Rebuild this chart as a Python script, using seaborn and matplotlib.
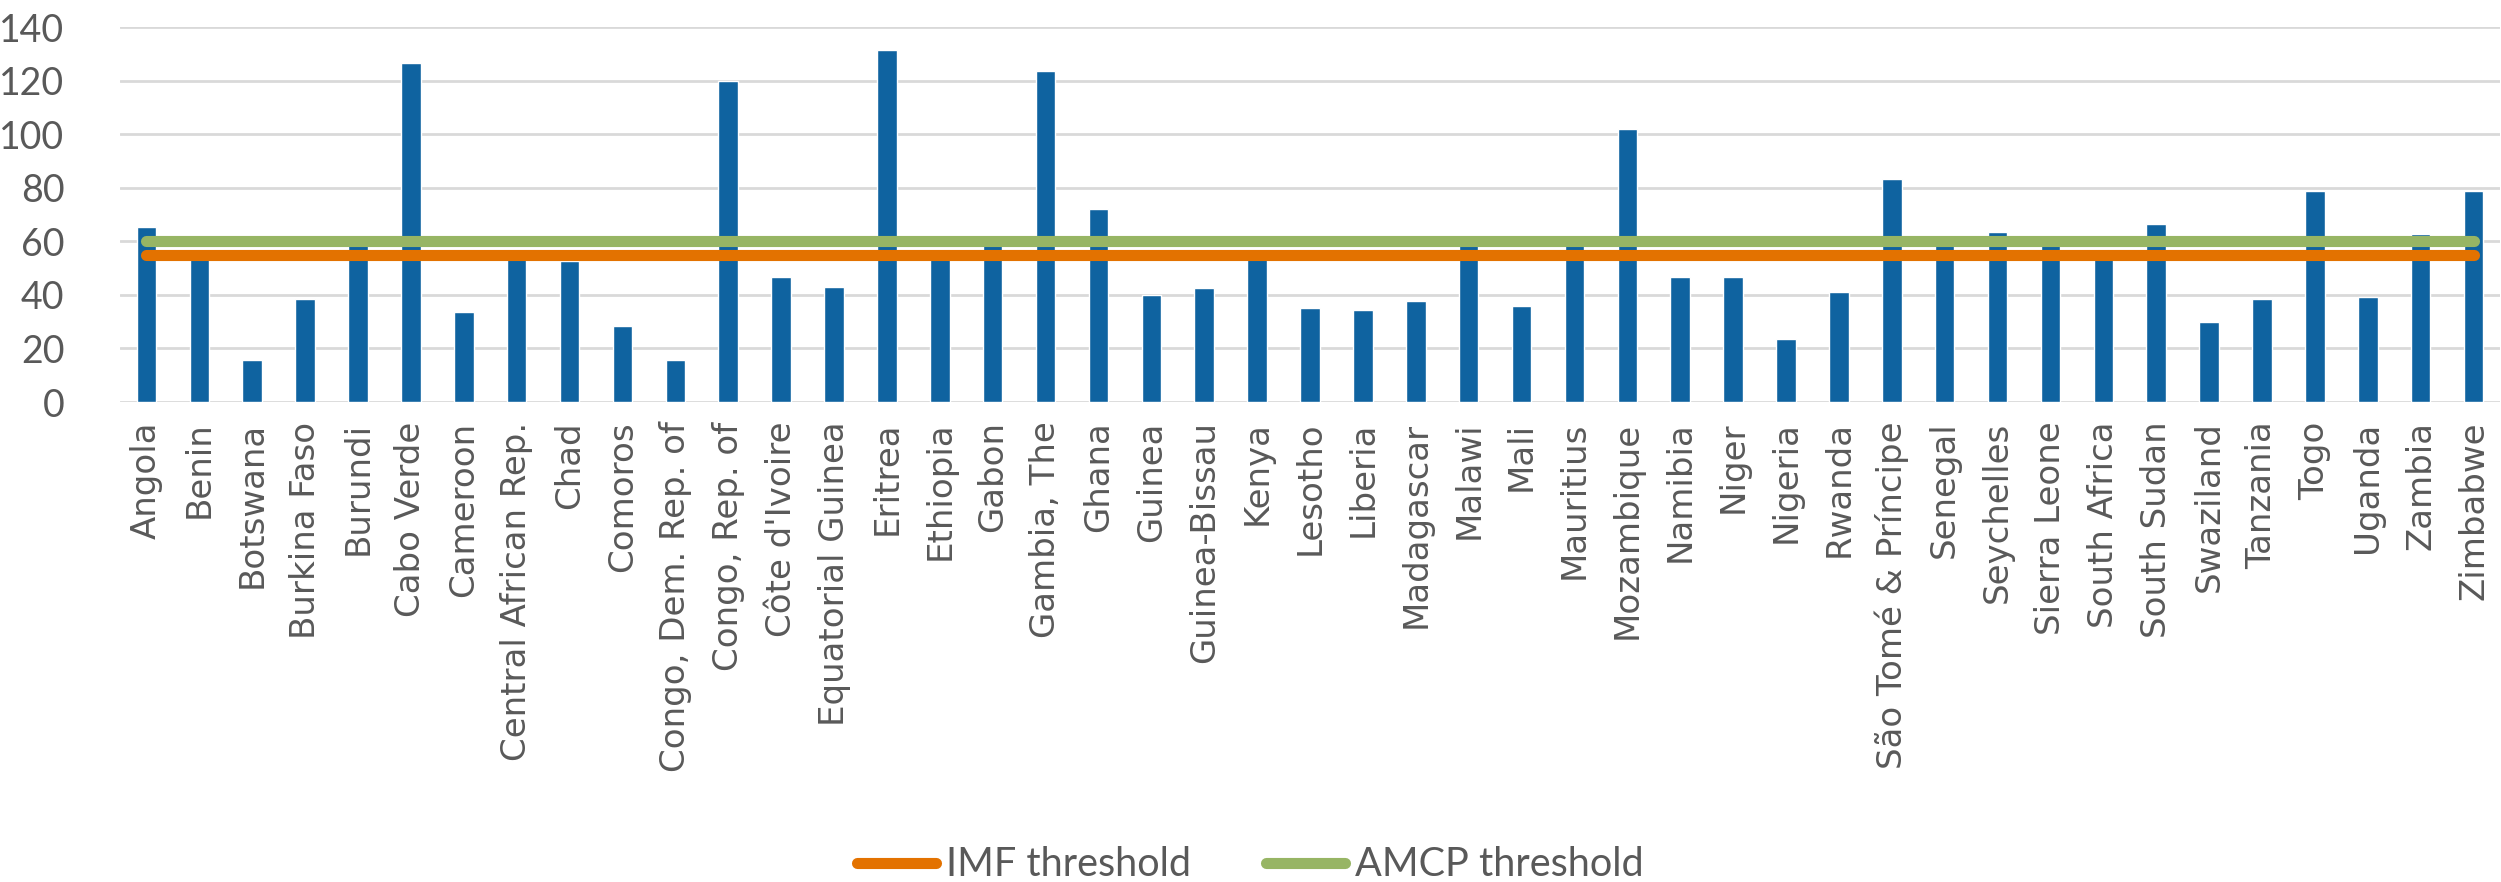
import matplotlib
matplotlib.use("Agg")
import matplotlib.pyplot as plt
import seaborn as sns
import pandas as pd

countries = [
    "Angola", "Benin", "Botswana", "Burkina Faso", "Burundi", "Cabo Verde",
    "Cameroon", "Central African Rep.", "Chad", "Comoros", "Congo, Dem. Rep. of",
    "Congo, Rep. of", "Côte d'Ivoire", "Equatorial Guinea", "Eritrea", "Ethiopia",
    "Gabon", "Gambia, The", "Ghana", "Guinea", "Guinea-Bissau", "Kenya",
    "Lesotho", "Liberia", "Madagascar", "Malawi", "Mali", "Mauritius",
    "Mozambique", "Namibia", "Niger", "Nigeria", "Rwanda", "São Tomé & Príncipe",
    "Senegal", "Seychelles", "Sierra Leone", "South Africa", "South Sudan",
    "Swaziland", "Tanzania", "Togo", "Uganda", "Zambia", "Zimbabwe",
]
debt_ratio = [
    65.3, 55.0, 15.7, 38.6, 58.5, 126.4,
    33.7, 55.0, 52.8, 28.4, 15.7,
    119.7, 46.5, 43.1, 131.6, 55.0,
    58.5, 123.7, 72.0, 39.9, 42.5, 54.0,
    35.2, 34.4, 37.7, 58.5, 35.9, 58.5,
    102.1, 46.5, 46.5, 23.7, 41.1, 83.3,
    58.5, 63.3, 58.5, 55.0, 66.6,
    29.8, 38.5, 78.7, 39.2, 62.6, 78.7,
]
imf_threshold = 55
amcp_threshold = 60
y_ticks = [0, 20, 40, 60, 80, 100, 120, 140]

BAR_BLUE = "#0F63A0"
IMF_ORANGE = "#E37200"
AMCP_GREEN = "#97B564"
TEXT_GREY = "#595959"
GRID_GREY = "#D9D9D9"

df = pd.DataFrame({"country": countries, "ratio": debt_ratio})

sns.set_theme(style="white")
plt.rcParams["font.family"] = ["DejaVu Sans"]

fig = plt.figure(figsize=(25.01, 8.82), dpi=100)
ax = fig.add_axes([120 / 2501, 1 - 402 / 882, (2500 - 120) / 2501, (402 - 27) / 882])

sns.barplot(data=df, x="country", y="ratio", color=BAR_BLUE, width=0.37,
            saturation=1, ax=ax, zorder=2)

n = len(countries)
ax.plot([0, n - 1], [imf_threshold] * 2, color=IMF_ORANGE, lw=8,
        solid_capstyle="round", zorder=3, label="IMF threshold")
ax.plot([0, n - 1], [amcp_threshold] * 2, color=AMCP_GREEN, lw=8,
        solid_capstyle="round", zorder=3, label="AMCP threshold")

ax.set_xlim(-0.5, n - 0.5)
ax.set_ylim(0, 140)
ax.set_yticks(y_ticks)
ax.set_yticklabels([str(t) for t in y_ticks], family=["Lato"], fontsize=27,
                   color=TEXT_GREY)
ax.yaxis.grid(True, color=GRID_GREY, lw=2, zorder=0)
ax.set_axisbelow(True)
ax.tick_params(axis="y", length=0, pad=40)
ax.tick_params(axis="x", length=0, pad=14)
ax.set_xticks(range(n))
ax.set_xticklabels(countries, rotation=90, fontsize=24.5, color=TEXT_GREY,
                   va="top", ha="center")
ax.set_xlabel("")
ax.set_ylabel("")
for side in ["top", "right", "left", "bottom"]:
    ax.spines[side].set_visible(False)

handles, labels = ax.get_legend_handles_labels()
fig.legend(handles, labels, loc="center", bbox_to_anchor=(0.5, 1 - 865 / 882),
           ncol=2, frameon=False, prop={"family": "Lato", "size": 28.5},
           labelcolor=TEXT_GREY, handlelength=2.0, handletextpad=0.25,
           columnspacing=1.9)

fig.savefig("out.png", dpi=100)
